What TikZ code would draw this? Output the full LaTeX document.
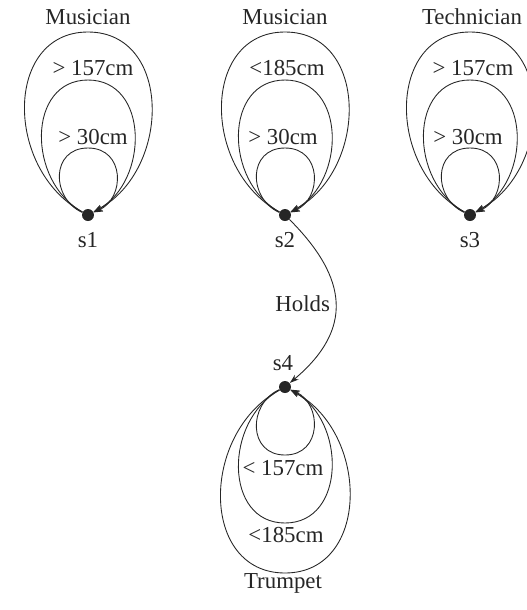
\documentclass[tikz,border=0pt]{standalone}
\usepackage{fontspec}
\setmainfont{Liberation Serif}
\usetikzlibrary{arrows.meta,positioning,calc}

\begin{document}
\begin{tikzpicture}[
  x=0.02cm, y=0.02cm,
  dot/.style={circle, fill=black!85, minimum size=2.4mm, inner sep=0pt},
  lbl/.style={font=\fontsize{13}{15}\selectfont, text=black!85, inner sep=1pt},
  arr/.style={-{Stealth[length=1.8mm, width=1.2mm]}, draw=black!85, line width=0.5pt}]
\useasboundingbox (0,0) rectangle (527,-610);
% states
\node[dot] (s1) at (88,-215) {};
\node[dot] (s2) at (285,-215) {};
\node[dot] (s3) at (470,-215) {};
\node[dot] (s4) at (285,-387) {};
\node[lbl] (n1) at (88,-240) {s1};
\node[lbl] (n2) at (285,-240) {s2};
\node[lbl] (n3) at (470,-240) {s3};
\node[lbl] (n4) at (283,-363) {s4};
% loops above s1, s2, s3
\foreach \s in {s1,s2,s3}
  \foreach \lw/\lh in {28/67,46/135,63/183}
    \draw[arr] (\s) .. controls ($(\s)+(-1.33*\lw,0.25*\lh)$) and ($(\s)+(-1.33*\lw,\lh)$) .. ($(\s)+(0,\lh)$)
      .. controls ($(\s)+(1.33*\lw,\lh)$) and ($(\s)+(1.33*\lw,0.25*\lh)$) .. (\s);
% loops below s4
\foreach \lw/\lh in {28/68,46/136,64/186}
  \draw[arr] (s4) .. controls ($(s4)+(-1.33*\lw,-0.25*\lh)$) and ($(s4)+(-1.33*\lw,-\lh)$) .. ($(s4)+(0,-\lh)$)
    .. controls ($(s4)+(1.33*\lw,-\lh)$) and ($(s4)+(1.33*\lw,-0.25*\lh)$) .. (s4);
% loop labels
\node[lbl] (m1) at (88,-17) {Musician};
\node[lbl] (a1) at (93,-68) {> 157cm};
\node[lbl] (b1) at (93,-137) {> 30cm};
\node[lbl] (m2) at (285,-17) {Musician};
\node[lbl] (a2) at (287,-68) {<185cm};
\node[lbl] (b2) at (283,-137) {> 30cm};
\node[lbl] (m3) at (472,-17) {Technician};
\node[lbl] (a3) at (473,-68) {> 157cm};
\node[lbl] (b3) at (468,-137) {> 30cm};
\node[lbl] (b4) at (283,-468) {< 157cm};
\node[lbl] (a4) at (286,-535) {<185cm};
\node[lbl] (m4) at (283,-583) {Trumpet};
% relation
\draw[arr] (s2) to[out=-45, in=40, looseness=1.3] node[lbl, left=2pt] (hl) {Holds} (s4);
\end{tikzpicture}
\end{document}
